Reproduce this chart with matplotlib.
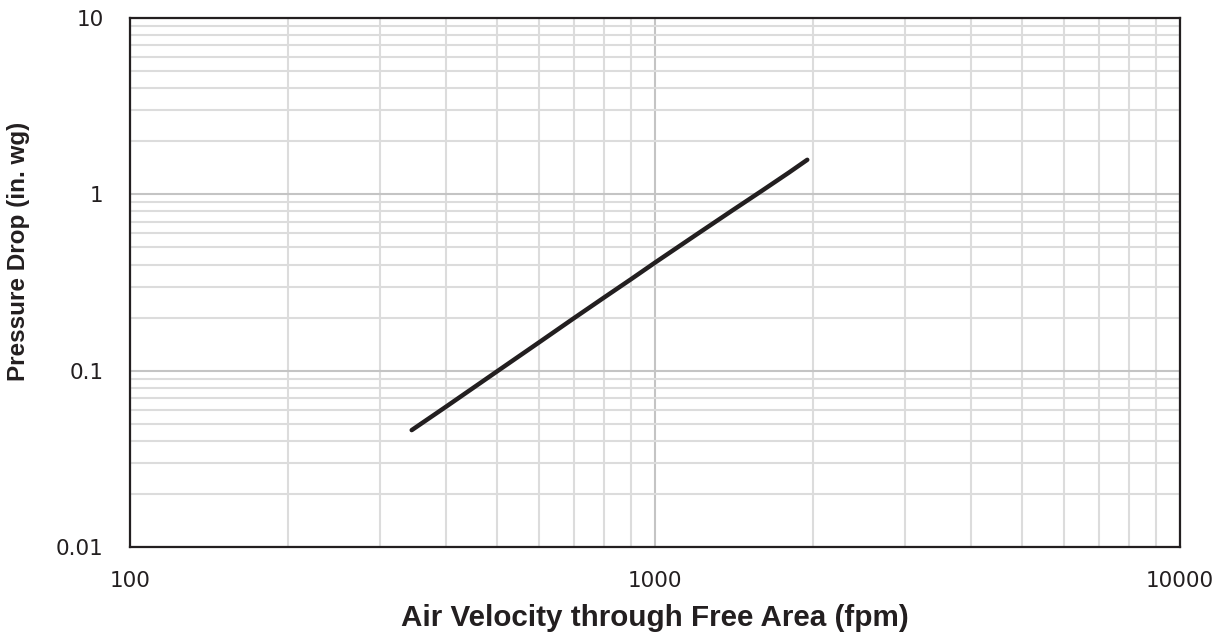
import matplotlib
matplotlib.use("Agg")
import matplotlib.pyplot as plt
from matplotlib.ticker import LogLocator, FixedLocator, FixedFormatter, NullFormatter

# Data
velocity_fpm = [344, 400, 500, 600, 700, 800, 900, 1000, 1200, 1400, 1600, 1800, 1950]
pressure_drop = [0.046, 0.0625, 0.099, 0.144, 0.198, 0.260, 0.330, 0.410, 0.592, 0.806, 1.05, 1.33, 1.57]

x_ticks = [100, 1000, 10000]
x_tick_labels = ["100", "1000", "10000"]
y_ticks = [0.01, 0.1, 1, 10]
y_tick_labels = ["0.01", "0.1", "1", "10"]

x_label = "Air Velocity through Free Area (fpm)"
y_label = "Pressure Drop (in. wg)"

fig = plt.figure(figsize=(12.25, 6.32), dpi=100)
ax = fig.add_axes([130/1225, 1 - 547/632, (1180-130)/1225, (547-18)/632])

ax.plot(velocity_fpm, pressure_drop, color="#231f20", lw=3.2,
        solid_capstyle="round", zorder=3)

ax.set_xscale("log")
ax.set_yscale("log")
ax.set_xlim(100, 10000)
ax.set_ylim(0.01, 10)

ax.xaxis.set_major_locator(FixedLocator(x_ticks))
ax.xaxis.set_major_formatter(FixedFormatter(x_tick_labels))
ax.yaxis.set_major_locator(FixedLocator(y_ticks))
ax.yaxis.set_major_formatter(FixedFormatter(y_tick_labels))
ax.xaxis.set_minor_locator(LogLocator(base=10, subs=range(2, 10), numticks=20))
ax.yaxis.set_minor_locator(LogLocator(base=10, subs=range(2, 10), numticks=20))
ax.xaxis.set_minor_formatter(NullFormatter())
ax.yaxis.set_minor_formatter(NullFormatter())

ax.grid(which="major", color="#c4c4c4", lw=1.5, zorder=0)
ax.grid(which="minor", color="#dcdcdc", lw=1.5, zorder=0)
ax.set_axisbelow(True)

ax.tick_params(which="both", length=0)
ax.tick_params(axis="x", which="major", pad=17, labelsize=15.5, labelcolor="#231f20")
ax.tick_params(axis="y", which="major", pad=19, labelsize=15.5, labelcolor="#231f20")
for lab in ax.get_xticklabels() + ax.get_yticklabels():
    lab.set_family(["DejaVu Sans"])

for s in ax.spines.values():
    s.set_color("#231f20")
    s.set_linewidth(1.6)

fig.text(655/1225, 1 - 626/632, x_label, ha="center", va="baseline",
         fontsize=21.3, fontweight="bold", color="#231f20",
         family=["Liberation Sans", "DejaVu Sans"])
fig.text(19/1225, 1 - 251/632, y_label, ha="center", va="center",
         rotation=90, fontsize=17.5, fontweight="bold", color="#231f20",
         family=["Liberation Sans", "DejaVu Sans"])

fig.savefig("out.png", dpi=100)
